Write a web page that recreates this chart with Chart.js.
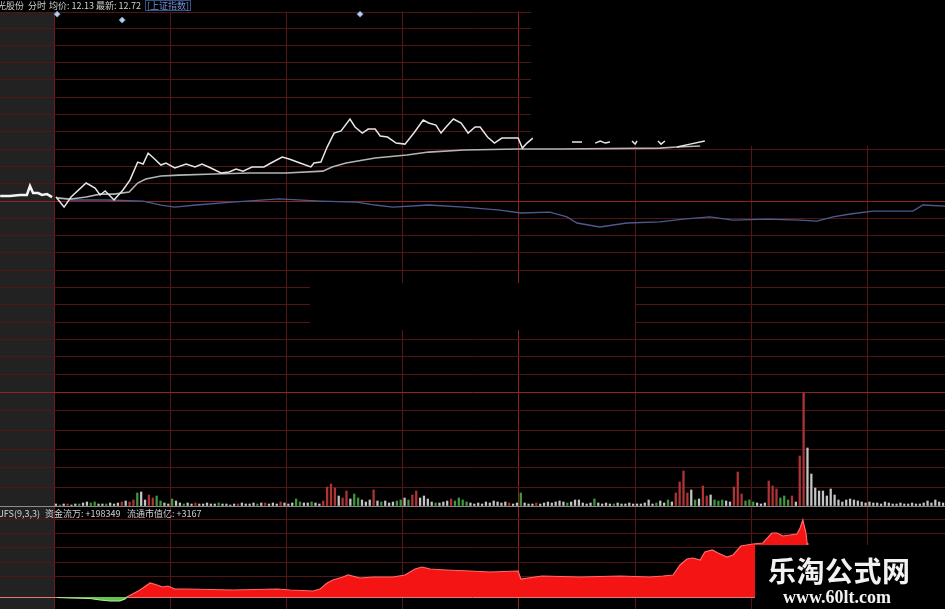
<!DOCTYPE html>
<html>
<head>
<meta charset="utf-8">
<script src="https://cdn.jsdelivr.net/npm/chart.js@4.4.1/dist/chart.umd.min.js"></script>
<style>
  html, body { margin: 0; padding: 0; background: #000; overflow: hidden; }
  #wrap { position: relative; width: 945px; height: 609px; }
  #wrap canvas { position: absolute; left: 0; top: 0; }
  .txt { position: absolute; font-family: "Noto Sans CJK SC", "Liberation Sans", sans-serif;
         font-size: 9px; line-height: 11px; color: #d0d0d0; white-space: nowrap; }
  .idx { color: #7090d8; border: 1px solid #34508a; padding: 0 1px; line-height: 9px; }
  .wm1 { position: absolute; left: 768px; top: 554px; font-family: "Noto Sans CJK SC", sans-serif;
         font-weight: 700; font-size: 28px; line-height: 32px; color: #f2f2f2; letter-spacing: 0.5px; }
  .wm2 { position: absolute; left: 783px; top: 587px; font-family: "Liberation Serif", serif;
         font-weight: 700; font-size: 18px; line-height: 20px; color: #f2f2f2; }
</style>
</head>
<body>
<div id="wrap">
  <canvas id="tick-chart" width="945" height="609"></canvas>
  <span class="txt" style="left:-3px;top:0px">光股份</span>
  <span class="txt" style="left:28px;top:0px">分时</span>
  <span class="txt" style="left:49px;top:0px">均价: 12.13</span>
  <span class="txt" style="left:96px;top:0px">最新: 12.72</span>
  <span class="txt idx" style="left:145px;top:0px">[上证指数]</span>
  <span class="txt" style="left:-1px;top:508px">JFS(9,3,3)</span>
  <span class="txt" style="left:45px;top:508px">资金流万: +198349</span>
  <span class="txt" style="left:127px;top:508px">流通市值亿: +3167</span>
  <div class="wm1">乐淘公式网</div>
  <div class="wm2">www.60lt.com</div>
</div>
<script>
"use strict";

////////  DATA ///////////
// minutes since open (negative = call auction), values in % vs previous close
const pre_min = [-13.9, -11.4, -8.8, -7.0, -6.2, -5.4, -4.1, -3.1, -1.8, -0.5];
const pre_pct = [0.29, 0.29, 0.35, 0.35, 0.87, 0.46, 0.46, 0.35, 0.40, 0.23];

const price_min = [
  0.5, 2.6, 4.4, 8.3, 10.6, 11.9, 13.2, 15.5, 17.8, 19.6,
  21.6, 23.0, 24.3, 25.7, 27.6, 28.9, 31.2, 34.1, 36.4, 38.2,
  40.5, 43.1, 45.2, 47.0, 48.8, 51.1, 54.2, 56.0, 58.9, 60.7,
  63.5, 66.3, 67.1, 68.9, 70.5, 72.3, 74.1, 76.4, 77.7, 79.6,
  81.1, 82.9, 84.2, 86.1, 88.3, 90.6, 92.9, 95.3, 96.7, 98.6,
  99.9, 101.2, 103.1, 105.1, 106.9, 108.7, 110.0, 111.9, 113.7, 115.6,
  119.8, 120.9, 122.1, 123.6, 128, 133.7, 136.3, 138, 139.7, 141.0,
  142.3, 143.5, 146, 149.2, 150.0, 150.5, 153, 155.9, 156.7, 157.7,
  159, 160.8, 164.2, 168.0
];
const price_pct = [
  0.23, -0.35, 0.23, 1.04, 0.75, 0.35, 0.58, 0.06, 0.64, 1.21,
  2.25, 2.14, 2.77, 2.49, 2.08, 2.20, 1.91, 2.14, 1.97, 2.14,
  1.91, 1.62, 1.68, 1.85, 1.73, 1.97, 1.97, 2.20, 2.54, 2.43,
  2.20, 1.97, 2.20, 2.25, 3.12, 3.93, 4.05, 4.74, 4.28, 3.93,
  4.16, 4.16, 3.76, 3.70, 3.35, 3.29, 3.93, 4.68, 4.51, 4.39,
  3.93, 4.28, 4.74, 4.51, 3.93, 4.28, 4.28, 3.70, 3.35, 3.64,
  3.64, 3.06, 3.35, 3.64, null, 3.41, 3.41, null, 3.35, 3.47,
  3.35, 3.41, null, 3.47, 3.29, 3.47, null, 3.47, 3.29, 3.47,
  null, 3.12, 3.29, 3.47
];

const avg_min = [0.8, 4.4, 8.3, 11.9, 15.5, 19.4, 21.6, 23.7, 27.6, 32.3,
  41.3, 50.6, 59.9, 69.4, 71.8, 75.4, 82.9, 91.1, 96.7, 105.8,
  119.8, 130.6, 156.4, 160.8, 166.8];
const avg_pct = [0.17, 0.12, 0.23, 0.40, 0.40, 0.52, 1.04, 1.27, 1.45, 1.50,
  1.56, 1.62, 1.62, 1.73, 1.97, 2.20, 2.49, 2.66, 2.83, 2.95,
  3.01, 3.01, 3.06, 3.12, 3.18];

// 上证指数 overlay
const idx_min = [0.5, 4.4, 13.7, 23.0, 27.6, 31.2, 36.7, 45.9, 58.1, 68.9,
  78.2, 82.9, 87.5, 96.7, 105.8, 115.1, 120.5, 128.0, 132.4, 135.0,
  140.9, 147.9, 156.4, 162.4, 169.3, 175.3, 184.0, 192.6, 197.0, 201.1,
  205.5, 211.4, 221.7, 224.3, 230.0];
const idx_pct = [0.23, 0.06, 0.06, 0, -0.23, -0.35, -0.23, -0.06, 0.12, 0,
  -0.06, -0.23, -0.35, -0.23, -0.35, -0.52, -0.69, -0.64, -0.92, -1.27,
  -1.50, -1.27, -1.21, -1.04, -0.92, -1.10, -1.04, -1.10, -1.16, -0.92,
  -0.75, -0.58, -0.58, -0.23, -0.29];

// event markers (diamonds on top)
const event_min = [0.8, 17.6, 79];
const event_pct = [10.8, 10.46, 10.8];

// volume per minute, r = up, g = down, w = flat
const volume = [
  2, 1, 2, 2, 1, 2, 2, 3, 4, 3,
  4, 2, 2, 2, 3, 2, 3, 4, 5, 4,
  6, 13, 14, 6, 11, 8, 10, 5, 3, 2,
  7, 5, 3, 2, 3, 2, 3, 2, 2, 3,
  2, 2, 3, 2, 2, 1, 2, 2, 3, 2,
  2, 3, 2, 3, 3, 2, 3, 2, 4, 3,
  2, 3, 7, 4, 3, 3, 4, 3, 2, 5,
  19, 22, 18, 10, 8, 15, 7, 12, 8, 6,
  4, 6, 16, 5, 4, 5, 3, 4, 5, 6,
  8, 6, 11, 15, 8, 10, 7, 4, 3, 3,
  4, 5, 7, 5, 8, 6, 4, 3, 2, 3,
  2, 4, 3, 5, 4, 3, 4, 3, 2, 3,
  13, 3, 2, 2, 3, 2, 3, 4, 3, 4,
  5, 4, 3, 4, 6, 6, 3, 2, 3, 7,
  3, 2, 3, 2, 2, 3, 2, 2, 3, 2,
  2, 2, 3, 6, 2, 3, 5, 3, 6, 4,
  13, 24, 35, 13, 16, 6, 7, 20, 10, 11,
  6, 5, 6, 5, 4, 19, 34, 12, 5, 6,
  4, 3, 2, 3, 25, 20, 17, 8, 10, 6,
  10, 4, 50, 113, 58, 32, 18, 15, 15, 10,
  17, 11, 6, 4, 6, 7, 6, 5, 4, 3,
  4, 3, 3, 2, 4, 3, 2, 2, 3, 2,
  2, 3, 2, 2, 3, 5, 3, 6, 4, 3
];
const volume_dir =
  "wgwrwwgwwg" + "gwwgwwwrwr" + "rgwwrrggww" + "gwwgwwrwww" + "wwgwwwwrww" +
  "wwgwrwwwrw" + "wwggwwgwwr" + "rrrwrrwggw" + "wwrwgwwwgg" + "wgrrwwwwgw" +
  "wwrggggwww" + "wwwwwwwrww" + "gwwwrwwwww" + "wwgwwwwwwg" + "wwwwgwwwww" +
  "wwwwwgwwgw" + "rrrrwgwrrw" + "gggwwrrrgg" + "gwwwrrrggg" + "rwrrwwwwww" +
  "wwwwwwwwww" + "wwwwwwwwww" + "wwwwwwwwww";

// JFS money flow
const fund_min = [0.8, 4.1, 9.3, 11.9, 14.5, 17.0, 18.3, 18.8, 22.2, 24.8,
  26.6, 28.1, 29.4, 31.2, 34.3, 46.2, 57.6, 60.9, 66.9, 68.7,
  70.5, 72.0, 74.6, 75.9, 79.0, 82.4, 87.5, 90.6, 93.2, 95.0,
  97.1, 101.2, 107.4, 112.5, 119.8, 120.5, 126.0, 135.8, 146.1, 153.8,
  157.2, 159.8, 161.6, 163.4, 164.9, 166.8, 168.0, 169.9, 171.4, 173.7,
  175.3, 177.3, 180.4, 183.0, 185.3, 186.6, 188.2, 190.0, 191.8, 192.6,
  193.3, 194.1, 194.4, 194.6];
const fund_val = [-0.5, -1, -1.5, -3, -4, -4, -2, 0, 7, 14,
  12, 10, 11, 8, 8, 7, 8, 7, 6, 8,
  14, 17, 20, 22, 19, 20, 20, 22, 28, 30,
  28, 27, 26, 25, 26, 18, 21, 20, 21, 20,
  21, 22, 32, 38, 39, 37, 45, 47, 44, 40,
  42, 51, 53, 54, 64, 64, 61, 62, 63, 69,
  77, 64, 54, 0];

const time_ticks = [0, 30, 60, 90, 120, 150, 180, 210];

//////// LAYOUT ///////////
const upper_rows = Array.from({length: 21}, (_, k) => 28 + 17.3 * k);
const grid_rows = [12, ...upper_rows, 392, 411, 430, 449, 468, 487, 519, 533, 547, 562, 576];
const bright_rows = [201, 392];

const dir_colors = {r: '#b03434', g: '#3f9a3f', w: '#c4c4c4'};

//////// FUNCTIONS /////////
function to_points(xs, ys) {
  return xs.map((x, i) => ({x: x, y: ys[i]}));
}

function fixed_ticks(values) {
  return function (axis) {
    axis.ticks = values.map(v => ({value: v}));
  };
}

const hidden_axis = (min, max) => ({
  type: 'linear', display: false, min: min, max: max
});

const panel_plugin = {
  id: 'panel',
  beforeDraw(chart) {
    const ctx = chart.ctx;
    const left = chart.scales.x.getPixelForValue(0);
    ctx.save();
    ctx.fillStyle = '#000';
    ctx.fillRect(0, 0, chart.width, chart.height);
    ctx.fillStyle = '#222222';
    ctx.fillRect(0, 12, left, chart.height - 12);
    ctx.restore();
  },
  beforeDatasetsDraw(chart) {
    // blanked parts of the grid, as in the screenshot
    const ctx = chart.ctx;
    ctx.save();
    ctx.fillStyle = '#000';
    ctx.fillRect(0, 0, chart.width, 11.5);
    ctx.fillRect(531, 0, chart.width - 531, 146);
    ctx.fillRect(310, 283, 325, 47);
    ctx.restore();
  },
  afterDraw(chart) {
    // watermark box
    const ctx = chart.ctx;
    ctx.save();
    ctx.fillStyle = '#000';
    ctx.fillRect(755, 545, chart.width - 755, chart.height - 545);
    ctx.restore();
  }
};

const datasets = [
  {
    label: 'pre',
    data: to_points(pre_min, pre_pct),
    yAxisID: 'pct',
    borderColor: '#f4f4f4',
    borderWidth: 2.5,
    pointRadius: 0,
    order: 0
  },
  {
    label: 'price',
    data: to_points(price_min, price_pct),
    yAxisID: 'pct',
    borderColor: '#e6e6e6',
    borderWidth: 1.5,
    pointRadius: 0,
    spanGaps: false,
    order: 0
  },
  {
    label: 'avg',
    data: to_points(avg_min, avg_pct),
    yAxisID: 'pct',
    borderColor: '#b4b4b4',
    borderWidth: 1.6,
    pointRadius: 0,
    order: 1
  },
  {
    label: 'index',
    data: to_points(idx_min, idx_pct),
    yAxisID: 'pct',
    borderColor: '#4d5a8e',
    borderWidth: 1.3,
    pointRadius: 0,
    order: 2
  },
  {
    label: 'events',
    data: to_points(event_min, event_pct),
    yAxisID: 'pct',
    showLine: false,
    pointStyle: 'rectRot',
    pointRadius: 3,
    pointBackgroundColor: '#b8d0ec',
    pointBorderColor: '#6f8fb8',
    pointBorderWidth: 1,
    order: 0
  },
  {
    type: 'bar',
    label: 'volume',
    data: volume.map((v, i) => ({x: i + 0.5, y: v})),
    yAxisID: 'vol',
    backgroundColor: volume.map((v, i) => dir_colors[volume_dir[i]]),
    barThickness: 1.6,
    order: 5
  },
  {
    label: 'jfs',
    data: to_points(fund_min, fund_val),
    yAxisID: 'fund',
    borderColor: '#ff6a6a',
    borderWidth: 1.2,
    pointRadius: 0,
    fill: {target: 'origin', above: '#f51414', below: '#62c44a'},
    segment: {
      borderColor: c => (c.p0.parsed.y < 0 || c.p1.parsed.y < 0) ? '#b6e6a4' : undefined
    },
    order: 5
  }
];

const chart_config = {
  type: 'line',
  data: {datasets: datasets},
  options: {
    responsive: false,
    devicePixelRatio: 1,
    animation: false,
    layout: {padding: 0, autoPadding: false},
    plugins: {
      legend: {display: false},
      tooltip: {enabled: false},
      title: {display: false}
    },
    scales: {
      x: {
        type: 'linear',
        min: -13.94,
        max: 230,
        offset: false,
        afterBuildTicks: fixed_ticks(time_ticks),
        ticks: {display: false},
        border: {display: false},
        grid: {
          offset: false,
          drawTicks: false,
          lineWidth: 1,
          color: c => c.tick.value === 120 ? '#8a2222' : (c.tick.value === 0 ? '#6e1a1a' : '#561616')
        }
      },
      rows: {
        type: 'linear',
        position: 'left',
        reverse: true,
        min: 0,
        max: 609,
        afterBuildTicks: fixed_ticks(grid_rows),
        ticks: {display: false},
        border: {display: false},
        grid: {
          drawTicks: false,
          color: c => bright_rows.some(r => Math.abs(r - c.tick.value) < 1) ? '#8e2424' : '#521515'
        }
      },
      pct: hidden_axis(-23.58, 11.62),
      vol: {
        type: 'linear',
        position: 'right',
        min: -103,
        max: 506,
        afterBuildTicks: fixed_ticks([0]),
        ticks: {display: false},
        border: {display: false},
        grid: {drawTicks: false, color: '#8c8c8c'}
      },
      fund: {
        type: 'linear',
        position: 'right',
        z: 1,
        min: -12,
        max: 597,
        afterBuildTicks: fixed_ticks([0]),
        ticks: {display: false},
        border: {display: false},
        grid: {drawTicks: false, color: '#e07a7a'}
      }
    }
  },
  plugins: [panel_plugin]
};

const tick_chart = new Chart(document.getElementById('tick-chart').getContext('2d'), chart_config);
</script>
</body>
</html>
